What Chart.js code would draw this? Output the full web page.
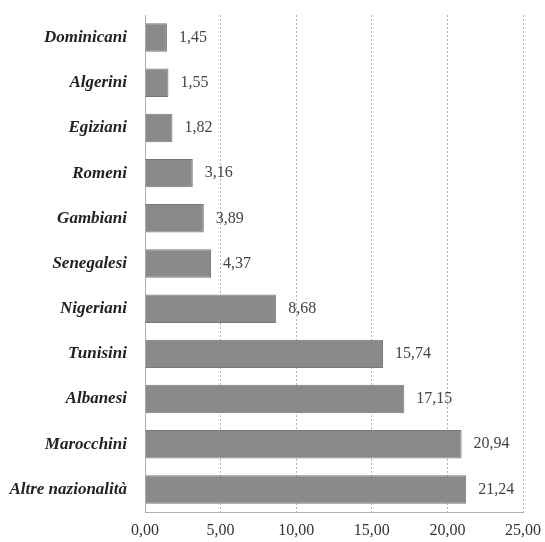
<!DOCTYPE html>
<html>
<head>
<meta charset="utf-8">
<script src="https://cdn.jsdelivr.net/npm/chart.js@4"></script>
<style>
  html, body { margin: 0; padding: 0; background: #fff; }
  #wrap { width: 545px; height: 542px; }
</style>
</head>
<body>
<div id="wrap"><canvas id="chart-bar"></canvas></div>
<script>
const categories = ['Dominicani', 'Algerini', 'Egiziani', 'Romeni', 'Gambiani', 'Senegalesi',
  'Nigeriani', 'Tunisini', 'Albanesi', 'Marocchini', 'Altre nazionalità'];
const percentages = [1.45, 1.55, 1.82, 3.16, 3.89, 4.37, 8.68, 15.74, 17.15, 20.94, 21.24];
const xTicks = [0, 5, 10, 15, 20, 25];

const fmt = v => v.toFixed(2).replace('.', ',');

const valueLabels = {
  id: 'valueLabels',
  afterDatasetsDraw(chart) {
    const ctx = chart.ctx;
    const meta = chart.getDatasetMeta(0);
    ctx.save();
    ctx.font = '16px "Liberation Serif", serif';
    ctx.fillStyle = '#444';
    ctx.textBaseline = 'middle';
    ctx.textAlign = 'left';
    meta.data.forEach((bar, i) => {
      ctx.fillText(fmt(percentages[i]), bar.x + 12, bar.y);
    });
    ctx.restore();
  }
};

document.addEventListener("DOMContentLoaded", function () {
  const ctx = document.getElementById('chart-bar');

  new Chart(ctx, {
    type: 'bar',
    data: {
      labels: categories,
      datasets: [{
        data: percentages,
        backgroundColor: '#8a8a8a',
        borderColor: '#777',
        borderWidth: 1,
        barPercentage: 0.63,
        categoryPercentage: 1
      }]
    },
    options: {
      indexAxis: 'y',
      responsive: true,
      maintainAspectRatio: false,
      animation: false,
      layout: { padding: { top: 15, right: 22, left: 0, bottom: 0 } },
      plugins: {
        legend: false,
        tooltip: { enabled: false }
      },
      scales: {
        x: {
          min: 0,
          max: 25,
          afterBuildTicks: scale => { scale.ticks = xTicks.map(v => ({ value: v })); },
          afterFit: scale => {
            scale.height = 30;
            scale.paddingLeft = 0;
            scale.paddingRight = 0;
          },
          ticks: {
            callback: v => fmt(v),
            color: '#333',
            padding: 9,
            font: { family: '"Liberation Serif", serif', size: 16 }
          },
          grid: {
            color: '#b5b5b5',
            drawTicks: false
          },
          border: { display: true, color: '#b0b0b0', dash: [2, 2] }
        },
        y: {
          afterFit: scale => {
            scale.width = 145;
            scale.paddingTop = 0;
            scale.paddingBottom = 0;
          },
          ticks: {
            color: '#222',
            padding: 18,
            font: { family: '"Liberation Serif", serif', size: 17, style: 'italic', weight: 'bold' }
          },
          grid: { display: false, drawTicks: false },
          border: { display: true, color: '#b0b0b0', dash: [2, 2] }
        }
      }
    },
    plugins: [valueLabels]
  });
});
</script>
</body>
</html>
